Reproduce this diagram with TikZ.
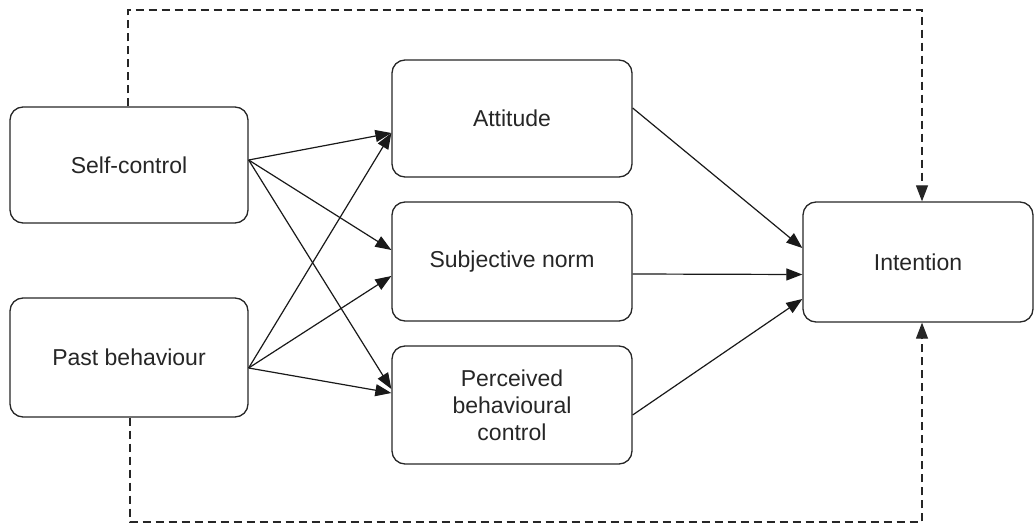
\documentclass[tikz,border=0pt]{standalone}
\usepackage{fontspec}
\setmainfont{Liberation Sans}
\usetikzlibrary{arrows.meta}
\begin{document}
\begin{tikzpicture}[x=1pt,y=-1pt,
  box/.style={draw=black!85, line width=1.3pt, rounded corners=13pt, align=center,
    font=\fontsize{23}{27}\selectfont, text=black!85, inner sep=0pt},
  tip/.style={-{Triangle[length=16pt,width=12pt]}},
  conn/.style={line width=1.2pt, draw=black!90, tip},
  dashconn/.style={line width=1.2pt, draw=black!85, dash pattern=on 8pt off 5pt}
]
\useasboundingbox (0,0) rectangle (1034,524);
\node[box, minimum width=238pt, minimum height=116pt] (sc) at (129,165) {Self-control};
\node[box, minimum width=238pt, minimum height=119pt] (pb) at (129,357.5) {Past behaviour};
\node[box, minimum width=240pt, minimum height=117pt] (att) at (512,118.5) {Attitude};
\node[box, minimum width=240pt, minimum height=119pt] (sn) at (512,261.5) {Subjective norm};
\node[box, minimum width=240pt, minimum height=118pt] (pbc) at (512,405) {Perceived\\behavioural\\control};
\node[box, minimum width=230pt, minimum height=120pt] (int) at (918,262) {Intention};

\coordinate (scO) at ([yshift=5pt]sc.east);
\coordinate (pbO) at ([yshift=-10.5pt]pb.east);

\draw[conn] (scO) -- ([yshift=-14.5pt]att.west);
\draw[conn] (scO) -- ([yshift=11.5pt]sn.west);
\draw[conn] (scO) -- ([yshift=16pt]pbc.west);
\draw[conn] (pbO) -- ([yshift=-14.5pt]att.west);
\draw[conn] (pbO) -- ([yshift=-14.5pt]sn.west);
\draw[conn] (pbO) -- ([yshift=12pt]pbc.west);

\draw[conn] ([yshift=10.5pt]att.east) -- ([yshift=14pt]int.west);
\draw[conn] ([yshift=-12.5pt]sn.east) -- ([yshift=-12.5pt]int.west);
\draw[conn] ([yshift=-10pt]pbc.east) -- ([yshift=-37pt]int.west);

\coordinate (topL) at (128,10);
\coordinate (botL) at (130,522);
\draw[dashconn, tip] ([xshift=-1pt]sc.north) -- (topL) -| ([xshift=4pt]int.north);
\draw[dashconn, tip] ([xshift=1pt]pb.south) -- (botL) -| ([xshift=4pt]int.south);
\end{tikzpicture}
\end{document}
